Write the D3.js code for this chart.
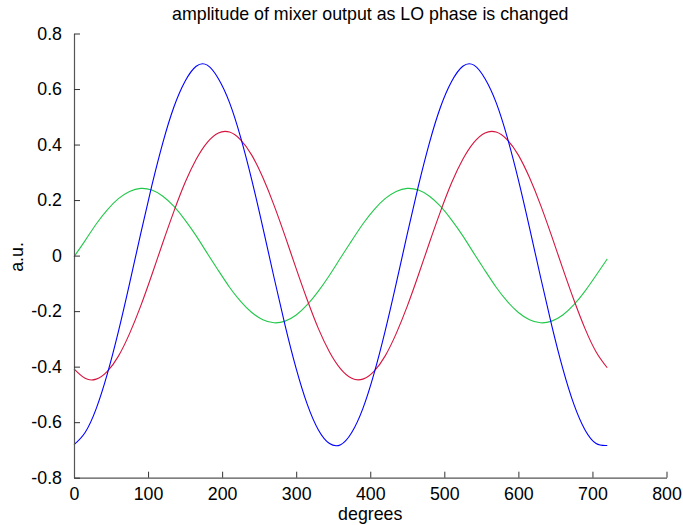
<!DOCTYPE html>
<html><head><meta charset="utf-8">
<script src="https://cdn.jsdelivr.net/npm/d3@7"></script>
<style>
html,body{margin:0;padding:0;background:#fff;}
text{font-family:"Liberation Sans",Arial,Helvetica,sans-serif;}
</style></head>
<body>
<svg id="chart" width="683" height="525"></svg>
<script>
const degrees = [0,15,30,45,60,75,90,105,120,135,150,165,180,195,210,225,240,255,270,285,300,315,330,345,360,
  375,390,405,420,435,450,465,480,495,510,525,540,555,570,585,600,615,630,645,660,675,690,705,720];
const blueSeries = [-0.681,-0.637,-0.551,-0.426,-0.273,-0.101,0.078,0.251,0.407,0.536,0.628,0.682,0.686,0.637,0.551,0.426,0.273,0.101,-0.078,-0.251,-0.407,-0.536,-0.628,-0.677,-0.681,
  -0.637,-0.551,-0.426,-0.273,-0.101,0.078,0.251,0.407,0.536,0.628,0.682,0.686,0.637,0.551,0.426,0.273,0.101,-0.078,-0.251,-0.407,-0.536,-0.628,-0.677,-0.684];
const redSeries = [-0.408,-0.442,-0.445,-0.417,-0.362,-0.281,-0.182,-0.070,0.047,0.160,0.263,0.347,0.408,0.442,0.445,0.417,0.362,0.281,0.182,0.070,-0.047,-0.160,-0.263,-0.347,-0.408,
  -0.442,-0.445,-0.417,-0.362,-0.281,-0.182,-0.070,0.047,0.160,0.263,0.347,0.408,0.442,0.445,0.417,0.362,0.281,0.182,0.070,-0.047,-0.160,-0.263,-0.347,-0.404];
const greenSeries = [-0.004,0.054,0.114,0.165,0.205,0.231,0.242,0.236,0.214,0.177,0.128,0.071,0.008,-0.054,-0.114,-0.165,-0.205,-0.231,-0.242,-0.236,-0.214,-0.177,-0.128,-0.071,-0.008,
  0.054,0.114,0.165,0.205,0.231,0.242,0.236,0.214,0.177,0.128,0.071,0.008,-0.054,-0.114,-0.165,-0.205,-0.231,-0.242,-0.236,-0.214,-0.177,-0.128,-0.071,-0.012];
const xTicks = [0,100,200,300,400,500,600,700,800];
const yTicks = [-0.8,-0.6,-0.4,-0.2,0,0.2,0.4,0.6,0.8];
const yTickLabels = ["-0.8","-0.6","-0.4","-0.2","0","0.2","0.4","0.6","0.8"];
const titleText = "amplitude of mixer output as LO phase is changed";
const xLabel = "degrees";
const yLabel = "a.u.";

const svg = d3.select("#chart");
const m = {left:74, top:33.5, right:666.5, bottom:477.7};
const x = d3.scaleLinear().domain([0,800]).range([m.left,m.right]);
const y = d3.scaleLinear().domain([-0.8,0.8]).range([m.bottom,m.top]);
const axisColor = "#555";
const fs = 17.8;

// lines
const series = [
  {vals: greenSeries, color:"#22c84a"},
  {vals: redSeries, color:"#d6143f"},
  {vals: blueSeries, color:"#0000ff"}
];
const line = d3.line().curve(d3.curveNatural);
series.forEach(s=>{
  svg.append("path")
    .attr("d", line(degrees.map((d,i)=>[x(d), y(s.vals[i])])))
    .attr("fill","none").attr("stroke",s.color).attr("stroke-width",1.1);
});

// axes
const xAxis = d3.axisBottom(x).tickValues(xTicks).tickSizeInner(-6).tickSizeOuter(0).tickPadding(10).tickFormat(d3.format("d"));
const gx = svg.append("g").attr("transform",`translate(0,${m.bottom})`).call(xAxis);
const yAxis = d3.axisLeft(y).tickValues(yTicks).tickSizeInner(-6).tickSizeOuter(0).tickPadding(12)
  .tickFormat((d,i)=>yTickLabels[yTicks.indexOf(d)]);
const gy = svg.append("g").attr("transform",`translate(${m.left},0)`).call(yAxis);
[gx,gy].forEach(g=>{
  g.select(".domain").attr("stroke",axisColor).attr("stroke-width",1.2);
  g.selectAll(".tick line").attr("stroke","#333").attr("stroke-width",1);
  g.selectAll(".tick text").attr("fill","#000").style("font-size",fs+"px")
    .style("font-family",'"Liberation Sans",Arial,sans-serif');
});
gx.selectAll(".tick text").attr("dy","0.71em");

// title and labels
svg.append("text").attr("x",(m.left+m.right)/2).attr("y",20).attr("text-anchor","middle")
  .style("font-size",fs+"px").text(titleText);
svg.append("text").attr("x",(m.left+m.right)/2).attr("y",520).attr("text-anchor","middle")
  .style("font-size",fs+"px").text(xLabel);
svg.append("text").attr("transform","translate(23,257) rotate(-90)").attr("text-anchor","middle")
  .style("font-size",fs+"px").text(yLabel);
</script>
</body></html>
